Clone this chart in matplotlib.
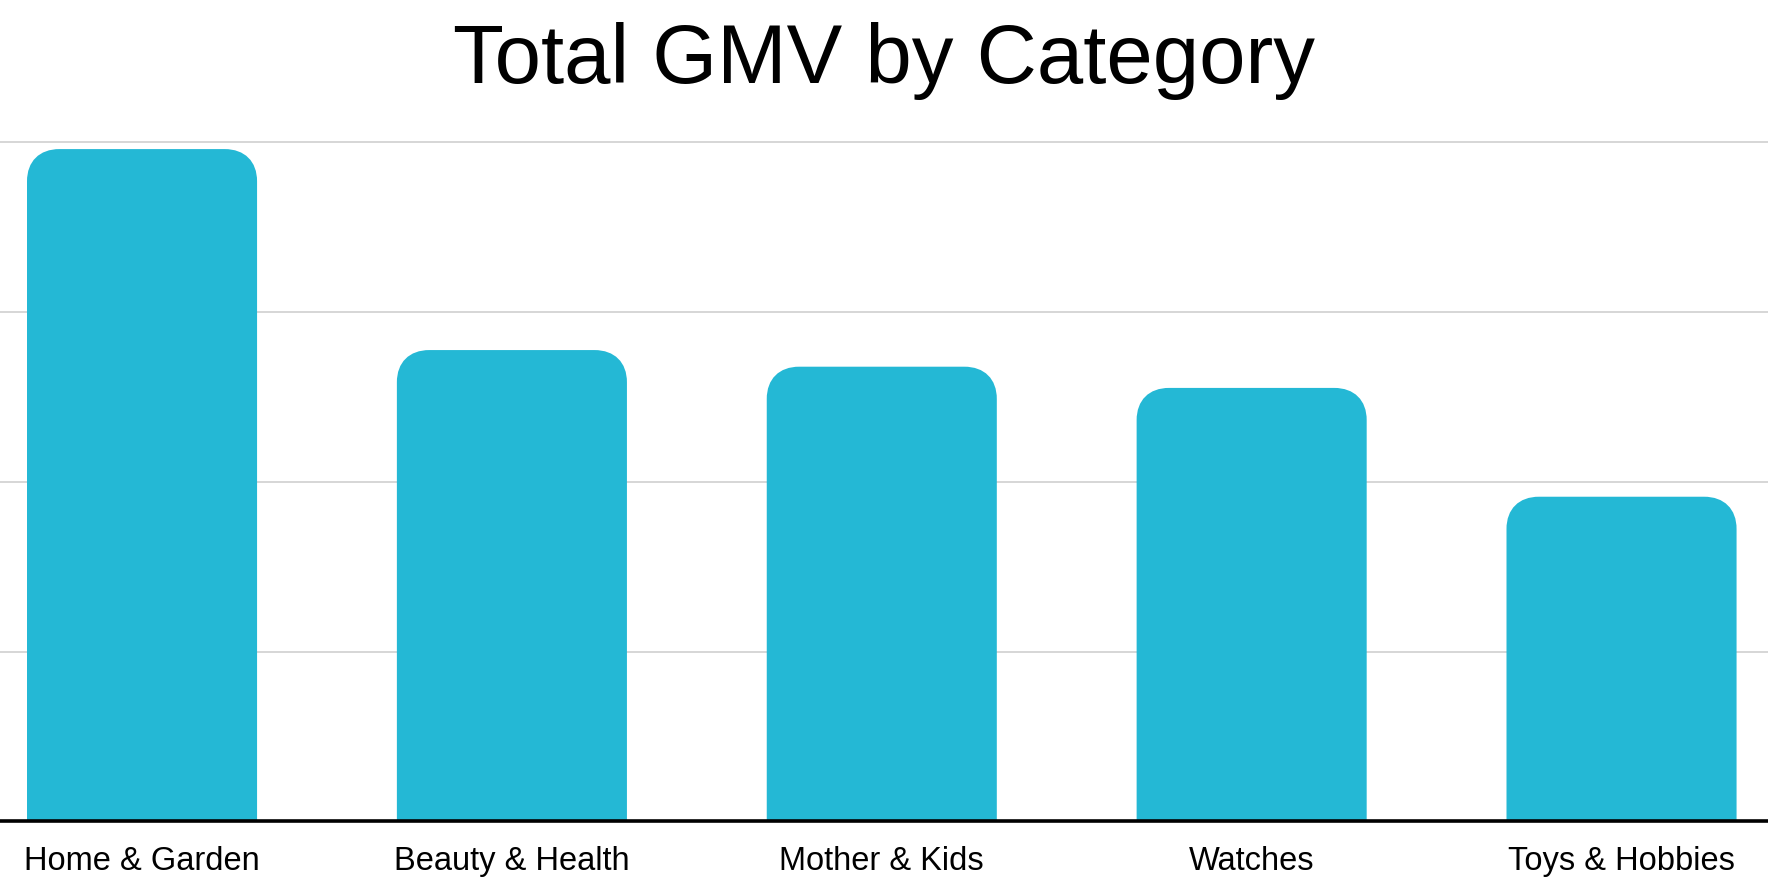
import numpy as np
import matplotlib
matplotlib.use('Agg')
import matplotlib.pyplot as plt
from matplotlib.path import Path
from matplotlib.patches import PathPatch

plt.rcParams['font.family'] = ['Liberation Sans', 'DejaVu Sans']

categories = ['Home & Garden', 'Beauty & Health', 'Mother & Kids', 'Watches', 'Toys & Hobbies']
gmv = [3.96, 2.776, 2.678, 2.553, 1.912]
grid_ticks = [1, 2, 3, 4]

bar_color = '#24b8d5'


def rounded_top(x0, w, h, rx, ry):
    # bar path with rounded top corners, square bottom
    k = 0.62
    x1 = x0 + w
    verts = [
        (x0, 0), (x1, 0), (x1, h - ry),
        (x1, h - ry + k * ry), (x1 - rx + k * rx, h), (x1 - rx, h),
        (x0 + rx, h),
        (x0 + rx - k * rx, h), (x0, h - ry + k * ry), (x0, h - ry),
        (x0, 0),
    ]
    codes = [Path.MOVETO, Path.LINETO, Path.LINETO,
             Path.CURVE4, Path.CURVE4, Path.CURVE4,
             Path.LINETO,
             Path.CURVE4, Path.CURVE4, Path.CURVE4,
             Path.CLOSEPOLY]
    return Path(verts, codes)


fig = plt.figure(figsize=(17.68, 8.90), dpi=100)
ax = fig.add_axes([0, 0.0772, 1, 0.782])

x = np.arange(len(categories))
bars = ax.bar(x, gmv, width=0.622, color=bar_color, alpha=0)
for b in bars:
    p = rounded_top(b.get_x(), b.get_width(), b.get_height(), 0.088, 0.19)
    ax.add_patch(PathPatch(p, facecolor=bar_color, edgecolor='none', zorder=3))

ax.set_xlim(-0.384, 4.396)
ax.set_ylim(0, 4.1)
ax.set_yticks(grid_ticks)
ax.yaxis.grid(True, color='#cccccc', linewidth=1.1, zorder=0)
ax.set_axisbelow(True)
ax.tick_params(axis='y', left=False, labelleft=False)
ax.set_xticks(x)
ax.set_xticklabels(categories, fontsize=23.5)
ax.tick_params(axis='x', length=0, pad=18)

for s in ['top', 'right', 'left']:
    ax.spines[s].set_visible(False)
ax.spines['bottom'].set_linewidth(2.6)
ax.spines['bottom'].set_color('black')
ax.spines['bottom'].set_zorder(4)

fig.text(0.5, (890 - 83) / 890, 'Total GMV by Category', ha='center', va='baseline', fontsize=60)

fig.savefig('out.png', dpi=100, facecolor='white')
